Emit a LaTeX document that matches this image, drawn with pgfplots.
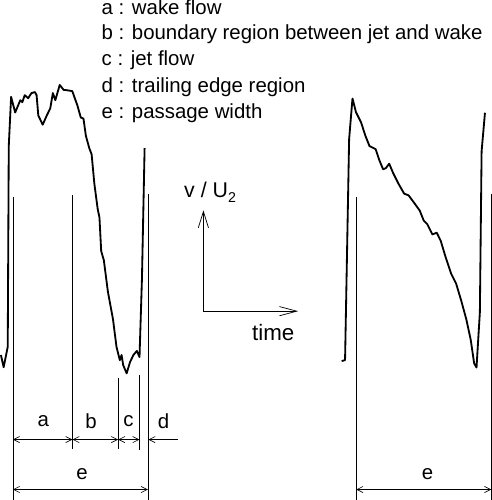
\documentclass[border=0pt]{standalone}
\usepackage{pgfplots}
\pgfplotsset{compat=1.18}
\usepackage{fontspec}
\setmainfont{Liberation Sans}
\usetikzlibrary{arrows.meta}
\begin{document}
\begin{tikzpicture}
\begin{axis}[width=492bp, height=500bp, scale only axis,
  xmin=0, xmax=492, ymin=0, ymax=500, y dir=reverse,
  axis lines=none, clip=false]
% left curve
\addplot[black, line width=1.8pt, line join=round] coordinates {
(8.3,355) (11,367) (15,347) (16,150) (18.3,101.7) (22.3,117) (27.3,105) (29.3,107) (31.7,100)
(35,103) (38.3,98) (41.7,97) (43.3,100) (45,120) (49.3,129) (53.3,120) (56.7,113) (59.3,98)
(61.7,105) (66,90) (70,95) (71.7,95) (78.3,96) (83.3,110) (86.7,122) (89.3,123) (91.7,140)
(95,152) (97.3,158) (100,187) (103.3,212) (105,220) (106.7,253) (109.3,262) (113.3,293)
(118.3,320) (121.7,347) (125,360) (126.7,355) (128.3,365) (131.7,373) (135,362) (138.3,355)
(141.7,351) (144.3,357) (146.7,280) (149.3,152)};
% right curve
\addplot[black, line width=1.8pt, line join=round] coordinates {
(342.7,361) (346,360) (350,143) (353.3,103.3) (356.7,116.7) (361.7,126.7) (366,140) (370,150)
(376,153) (379.3,163) (383.3,172.7) (386,171.7) (389.3,167.3) (393.3,176.7) (398.3,186.7)
(404,196.7) (408.3,198.3) (413.3,205) (419.3,213.3) (423.3,223.3) (426.7,226.7) (431.7,236.7)
(436,235) (440,243.3) (445,260) (450,275) (455,285) (460,301.7) (465,320) (469.3,340)
(472.7,363.3) (475,367.3) (478.3,313) (480,155) (483.3,117.3)};
% vertical guide lines
\addplot[black, line width=0.6pt] coordinates {(20,200) (20,497)};
\addplot[black, line width=0.6pt] coordinates {(78.5,198) (78.5,447)};
\addplot[black, line width=0.6pt] coordinates {(123.3,378) (123.3,447)};
\addplot[black, line width=0.6pt] coordinates {(144.3,375) (144.3,448)};
\addplot[black, line width=0.6pt] coordinates {(152.5,197) (152.5,497)};
\addplot[black, line width=0.6pt] coordinates {(357,200) (357,497)};
\addplot[black, line width=0.6pt] coordinates {(489.5,197) (489.5,497)};
% dimension arrows
\addplot[black, line width=0.6pt, {Straight Barb[length=6bp,width=6bp]}-{Straight Barb[length=6bp,width=6bp]}] coordinates {(20,438) (78.5,438)};
\addplot[black, line width=0.6pt, {Straight Barb[length=6bp,width=6bp]}-{Straight Barb[length=6bp,width=6bp]}] coordinates {(78.5,438) (123.3,438)};
\addplot[black, line width=0.6pt, {Straight Barb[length=6bp,width=6bp]}-{Straight Barb[length=6bp,width=6bp]}] coordinates {(123.3,438) (144.3,438)};
\addplot[black, line width=0.6pt, -{Straight Barb[length=6bp,width=6bp]}] coordinates {(182,438) (153,438)};
\addplot[black, line width=0.6pt, {Straight Barb[length=6bp,width=6bp]}-{Straight Barb[length=6bp,width=6bp]}] coordinates {(20,487) (152.5,487)};
\addplot[black, line width=0.6pt, {Straight Barb[length=6bp,width=6bp]}-{Straight Barb[length=6bp,width=6bp]}] coordinates {(357,487) (489.5,487)};
% v/U2 - time axes
\addplot[black, line width=0.7pt, -{Straight Barb[length=16bp,width=10bp]}] coordinates {(207,312) (207,213)};
\addplot[black, line width=0.7pt, -{Straight Barb[length=17bp,width=9bp]}] coordinates {(207,312) (300,312)};
% texts
\begin{scope}[every node/.style={font=\fontsize{20.1}{24}\selectfont, inner sep=0pt}]
\node[anchor=west] at (axis cs:107,14) {a : wake flow};
\node[anchor=west] at (axis cs:107,40) {b : boundary region between jet and wake};
\node[anchor=west] at (axis cs:107,66) {c : jet flow};
\node[anchor=west] at (axis cs:107,92) {d : trailing edge region};
\node[anchor=west] at (axis cs:107,118) {e : passage width};
\node at (axis cs:50,420) {a};
\node at (axis cs:96.7,420) {b};
\node at (axis cs:133.5,420) {c};
\node at (axis cs:168,420) {d};
\node at (axis cs:88,472) {e};
\node at (axis cs:427,472) {e};
\node[font=\fontsize{22}{26}\selectfont] at (axis cs:275.5,333) {time};
\node[anchor=west, font=\fontsize{21}{25}\selectfont] at (axis cs:188,195) {v / U\raisebox{-0.45ex}{\fontsize{14}{16}\selectfont 2}};
\end{scope}
\end{axis}
\end{tikzpicture}
\end{document}
